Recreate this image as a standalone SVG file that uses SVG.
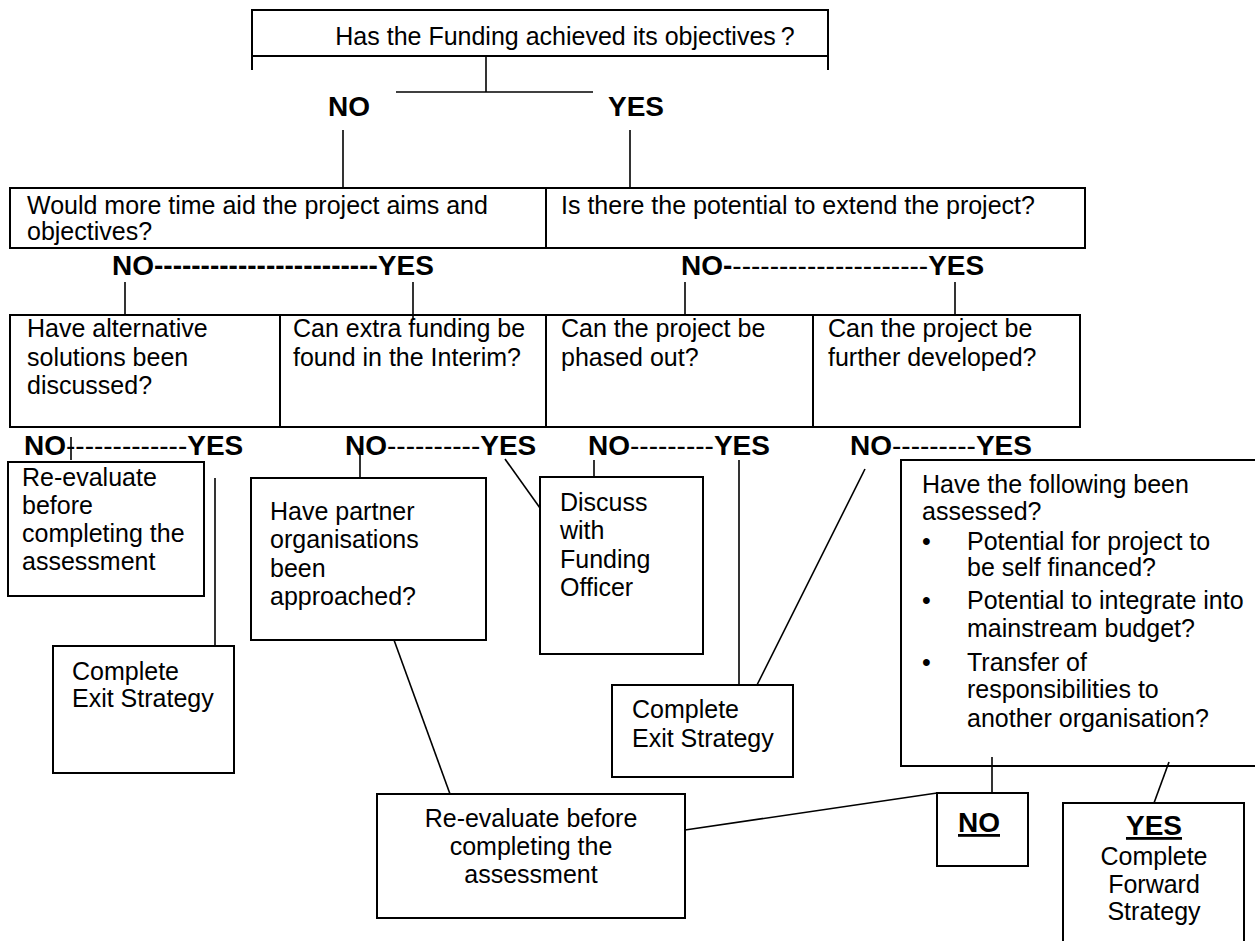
<svg xmlns="http://www.w3.org/2000/svg" width="1255" height="941" viewBox="0 0 1255 941">
<style>
.b{fill:#fff;stroke:#000;stroke-width:2}
.t{font-family:"Liberation Sans",Arial,sans-serif;font-size:25px;fill:#000}
.k{font-family:"Liberation Sans",Arial,sans-serif;font-size:28px;font-weight:bold;fill:#000}
.c line{stroke:#000;stroke-width:1.6}
.m{text-anchor:middle}
.u{text-decoration:underline}
</style>
<rect width="1255" height="941" fill="#fff"/>
<g id="q-funding">
<path d="M252,70 V10 H828 V70 M252,56 H828" fill="none" stroke="#000" stroke-width="2"/>
<text class="t m" x="565" y="45">Has the Funding achieved its objectives<tspan dx="5">?</tspan></text>
</g>
<g id="lbl-top">
<text class="k" x="328" y="116">NO</text>
<text class="k" x="608" y="116">YES</text>
</g>
<g id="q-time">
<rect class="b" x="10" y="188" width="536" height="60"/>
<text class="t" x="27" y="214">Would more time aid the project aims and</text>
<text class="t" x="27" y="240">objectives?</text>
</g>
<g id="q-extend">
<rect class="b" x="546" y="188" width="539" height="60"/>
<text class="t" x="561" y="214">Is there the potential to extend the project?</text>
</g>
<g id="lbl-row2">
<text class="k" x="112" y="275">NO------------------------YES</text>
<text class="k" x="681" y="275">NO-<tspan font-weight="normal">---------------------</tspan>YES</text>
</g>
<g id="q-alt">
<rect class="b" x="10" y="315" width="270" height="112"/>
<text class="t" x="27" y="337">Have alternative</text>
<text class="t" x="27" y="366">solutions been</text>
<text class="t" x="27" y="394">discussed?</text>
</g>
<g id="q-extra">
<rect class="b" x="280" y="315" width="266" height="112"/>
<text class="t" x="293" y="337">Can extra funding be</text>
<text class="t" x="293" y="366">found in the Interim?</text>
</g>
<g id="q-phased">
<rect class="b" x="546" y="315" width="267" height="112"/>
<text class="t" x="561" y="337">Can the project be</text>
<text class="t" x="561" y="366">phased out?</text>
</g>
<g id="q-further">
<rect class="b" x="813" y="315" width="267" height="112"/>
<text class="t" x="828" y="337">Can the project be</text>
<text class="t" x="828" y="366">further developed?</text>
</g>
<g id="lbl-row4">
<text class="k" x="24" y="455">NO<tspan font-weight="normal">-------------</tspan>YES</text>
<text class="k" x="345" y="455">NO<tspan font-weight="normal">----------</tspan>YES</text>
<text class="k" x="588" y="455">NO<tspan font-weight="normal">---------</tspan>YES</text>
<text class="k" x="850" y="455">NO<tspan font-weight="normal">---------</tspan>YES</text>
</g>
<g id="reeval-1">
<rect class="b" x="8" y="462" width="196" height="134"/>
<text class="t" x="22" y="486">Re-evaluate</text>
<text class="t" x="22" y="514">before</text>
<text class="t" x="22" y="542">completing the</text>
<text class="t" x="22" y="570">assessment</text>
</g>
<g id="exit-1">
<rect class="b" x="53" y="646" width="181" height="127"/>
<text class="t" x="72" y="680">Complete</text>
<text class="t" x="72" y="707">Exit Strategy</text>
</g>
<g id="q-partner">
<rect class="b" x="251" y="478" width="235" height="162"/>
<text class="t" x="270" y="520">Have partner</text>
<text class="t" x="270" y="548">organisations</text>
<text class="t" x="270" y="577">been</text>
<text class="t" x="270" y="605">approached?</text>
</g>
<g id="discuss">
<rect class="b" x="540" y="477" width="163" height="177"/>
<text class="t" x="560" y="511">Discuss</text>
<text class="t" x="560" y="539">with</text>
<text class="t" x="560" y="568">Funding</text>
<text class="t" x="560" y="596">Officer</text>
</g>
<g id="exit-2">
<rect class="b" x="612" y="685" width="181" height="92"/>
<text class="t" x="632" y="718">Complete</text>
<text class="t" x="632" y="747">Exit Strategy</text>
</g>
<g id="q-following">
<rect class="b" x="901" y="460" width="370" height="306"/>
<text class="t" x="922" y="493">Have the following been</text>
<text class="t" x="922" y="520">assessed?</text>
<text class="t" x="922" y="550">•</text>
<text class="t" x="967" y="550">Potential for project to</text>
<text class="t" x="967" y="576">be self financed?</text>
<text class="t" x="922" y="609">•</text>
<text class="t" x="967" y="609">Potential to integrate into</text>
<text class="t" x="967" y="637">mainstream budget?</text>
<text class="t" x="922" y="671">•</text>
<text class="t" x="967" y="671">Transfer of</text>
<text class="t" x="967" y="698">responsibilities to</text>
<text class="t" x="967" y="727">another organisation?</text>
</g>
<g id="reeval-2">
<rect class="b" x="377" y="794" width="308" height="124"/>
<text class="t m" x="531" y="827">Re-evaluate before</text>
<text class="t m" x="531" y="855">completing the</text>
<text class="t m" x="531" y="883">assessment</text>
</g>
<g id="no-box">
<rect class="b" x="937" y="793" width="91" height="73"/>
<text class="k m u" x="979" y="832">NO</text>
</g>
<g id="yes-forward">
<rect class="b" x="1063" y="803" width="181" height="150"/>
<text class="k m u" x="1154" y="835">YES</text>
<text class="t m" x="1154" y="865">Complete</text>
<text class="t m" x="1154" y="893">Forward</text>
<text class="t m" x="1154" y="920">Strategy</text>
</g>
<g id="connectors" class="c">
<line x1="486" y1="56" x2="486" y2="92"/>
<line x1="396" y1="92" x2="593" y2="92"/>
<line x1="343" y1="130" x2="343" y2="188"/>
<line x1="630" y1="130" x2="630" y2="188"/>
<line x1="125" y1="282" x2="125" y2="315"/>
<line x1="413" y1="282" x2="413" y2="320"/>
<line x1="685" y1="282" x2="685" y2="316"/>
<line x1="955" y1="282" x2="955" y2="316"/>
<line x1="71" y1="437" x2="71" y2="460"/>
<line x1="215" y1="478" x2="215" y2="646"/>
<line x1="360" y1="448" x2="360" y2="478"/>
<line x1="505" y1="459" x2="540" y2="508"/>
<line x1="594" y1="460" x2="594" y2="477"/>
<line x1="739" y1="460" x2="739" y2="685"/>
<line x1="865" y1="469" x2="757" y2="685"/>
<line x1="394" y1="640" x2="450" y2="794"/>
<line x1="992" y1="757" x2="992" y2="793"/>
<line x1="685" y1="830" x2="937" y2="793"/>
<line x1="1169" y1="762" x2="1154" y2="803"/>
</g>
</svg>
